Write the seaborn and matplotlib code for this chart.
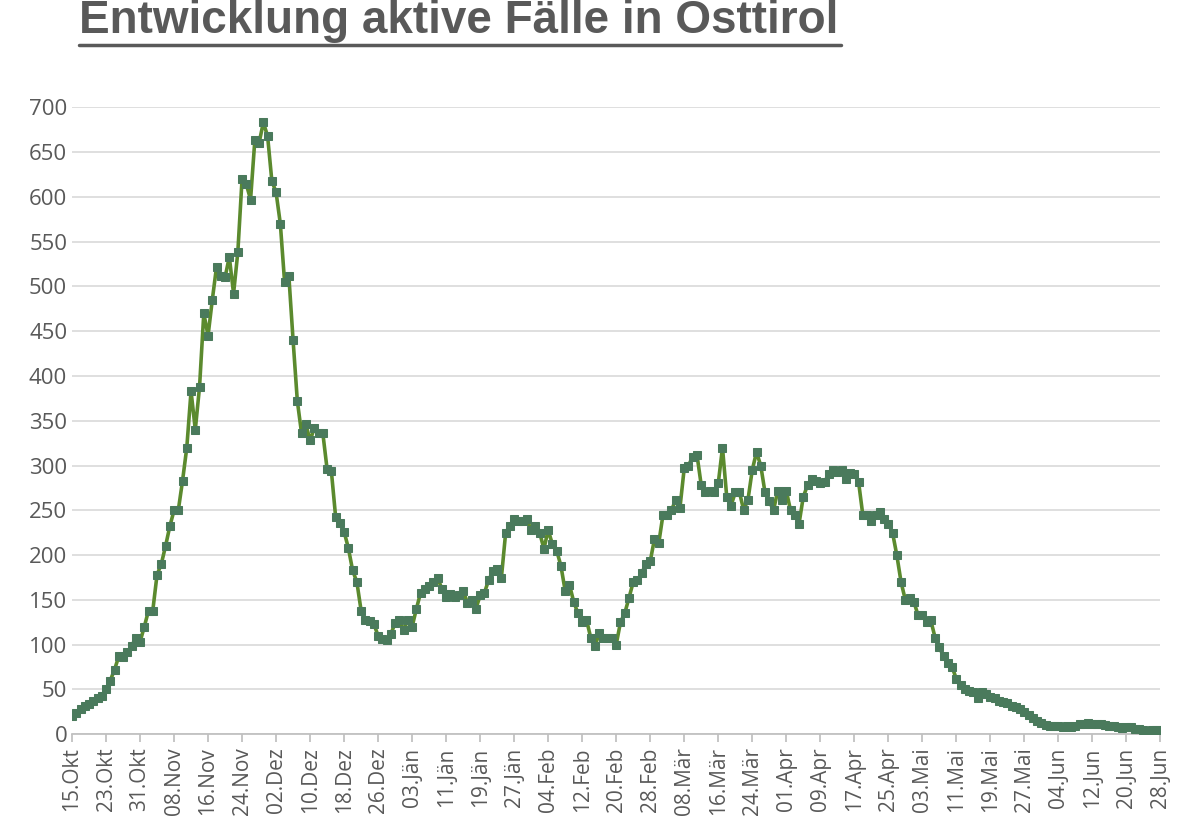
import numpy as np
import pandas as pd
import matplotlib
matplotlib.use("Agg")
import matplotlib.pyplot as plt
import seaborn as sns

# daily active cases, 15.Okt 2020 - 28.Jun 2021
start_date = "2020-10-15"
active_cases = [
    20, 24, 28, 31, 34, 37, 40, 43,
    50, 60, 72, 87, 86, 92, 98, 108,
    103, 120, 138, 138, 178, 190, 210, 232,
    250, 250, 283, 320, 383, 340, 388, 470,
    445, 485, 522, 512, 510, 533, 492, 538,
    620, 614, 597, 663, 660, 683, 668, 618,
    605, 570, 505, 512, 440, 372, 336, 346,
    328, 342, 336, 336, 296, 294, 243, 236,
    226, 208, 183, 170, 138, 128, 126, 123,
    110, 106, 105, 112, 124, 127, 116, 128,
    120, 140, 158, 162, 165, 170, 175, 162,
    153, 157, 153, 155, 160, 147, 150, 140,
    155, 158, 172, 182, 185, 175, 225, 233,
    240, 238, 238, 240, 228, 232, 225, 207,
    228, 212, 205, 188, 160, 167, 148, 135,
    125, 128, 108, 98, 113, 108, 107, 108,
    100, 125, 135, 152, 170, 172, 180, 190,
    193, 218, 213, 245, 245, 250, 262, 253,
    297, 300, 310, 312, 278, 270, 272, 270,
    280, 320, 265, 255, 270, 270, 250, 262,
    295, 315, 300, 270, 260, 250, 272, 262,
    272, 250, 245, 235, 265, 278, 285, 283,
    280, 282, 290, 295, 293, 295, 285, 292,
    290, 282, 245, 245, 238, 245, 248, 240,
    235, 225, 200, 170, 150, 152, 148, 133,
    133, 125, 127, 108, 97, 87, 80, 75,
    62, 55, 50, 48, 47, 40, 47, 45,
    42, 40, 37, 36, 35, 32, 30, 28,
    25, 22, 18, 15, 13, 10, 9, 9,
    9, 8, 9, 8, 9, 11, 12, 13,
    12, 12, 11, 10, 9, 9, 8, 7,
    8, 8, 6, 6, 5, 4, 5, 5, 5,
]
month_names = ["Jän", "Feb", "Mär", "Apr", "Mai", "Jun",
               "Jul", "Aug", "Sep", "Okt", "Nov", "Dez"]

dates = pd.date_range(start_date, periods=len(active_cases), freq="D")
df = pd.DataFrame({"day": np.arange(len(active_cases)), "cases": active_cases})

sns.set_theme(style="white")
plt.rcParams['font.family'] = ['Open Sans', 'DejaVu Sans']
grey = "#595959"

fig, ax = plt.subplots(figsize=(12, 8.25), dpi=100)
fig.subplots_adjust(left=0.06, right=0.967, top=0.87, bottom=0.11)

sns.lineplot(data=df, x="day", y="cases", ax=ax, color="#5b8a2e", linewidth=2.6,
             marker="s", markersize=6, markerfacecolor="#4a7a5c",
             markeredgecolor="#4a7a5c", zorder=3)

tick_days = np.arange(0, len(active_cases), 8)
ax.set_xticks(tick_days)
ax.set_xticklabels([f"{dates[d].day:02d}.{month_names[dates[d].month - 1]}" for d in tick_days],
                   rotation=90, fontsize=15, color=grey)
ax.set_xlim(0, len(active_cases) - 1)
ax.set_ylim(0, 700)
ax.set_yticks(np.arange(0, 701, 50))
ax.tick_params(axis="y", labelsize=16, colors=grey, length=0)
ax.tick_params(axis="x", colors="#bfbfbf", labelcolor=grey, length=6, direction="out", bottom=True)
ax.yaxis.grid(True, color="#d9d9d9", linewidth=1.2)
ax.set_axisbelow(True)
for s in ["top", "right", "left"]:
    ax.spines[s].set_visible(False)
ax.spines["bottom"].set_color("#bfbfbf")
ax.set_xlabel("")
ax.set_ylabel("")

fig.text(0.066, 0.974, "Entwicklung aktive Fälle in Osttirol", fontsize=33,
         fontweight="bold", color=grey, ha="left", va="center",
         fontfamily=["Liberation Sans", "DejaVu Sans"])
fig.add_artist(plt.Line2D([0.066, 0.701], [0.946, 0.946], color=grey, linewidth=2.5))

fig.savefig("out.png", dpi=100)
